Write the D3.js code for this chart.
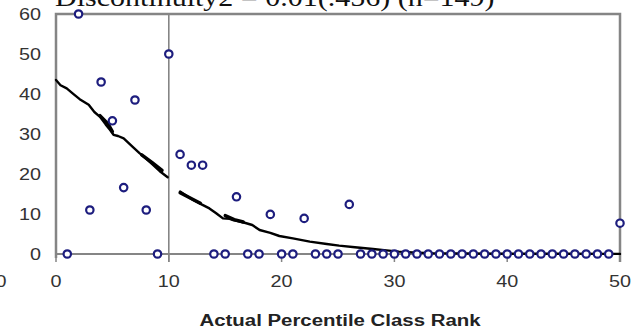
<!DOCTYPE html>
<html>
<head>
<meta charset="utf-8">
<script src="https://cdn.jsdelivr.net/npm/d3@7"></script>
<style>
  html, body { margin: 0; padding: 0; background: #fff; overflow: hidden; }
  svg { display: block; }
</style>
</head>
<body>
<svg id="chart" width="642" height="334"></svg>
<script>
// Observed class-rank points
const rankX = [1, 2, 3, 4, 5, 6, 7, 8, 9, 10, 11, 12, 13, 14, 15, 16, 17, 18, 19, 20,
  21, 22, 23, 24, 25, 26, 27, 28, 29, 30, 31, 32, 33, 34, 35, 36, 37, 38, 39, 40,
  41, 42, 43, 44, 45, 46, 47, 48, 49, 50];
const rankY = [0, 60, 11, 43, 33.3, 16.6, 38.5, 11, 0, 50, 24.9, 22.2, 22.2, 0, 0, 14.3, 0, 0, 9.9, 0,
  0, 8.9, 0, 0, 0, 12.4, 0, 0, 0, 0, 0, 0, 0, 0, 0, 0, 0, 0, 0, 0,
  0, 0, 0, 0, 0, 0, 0, 0, 0, 7.7];

// Fitted curve, below the cutoff
const fitLeftX = [0, 0.4, 0.95, 1.5, 2.1, 2.9, 3.4, 3.9, 4.4, 4.8, 5.1, 5.5, 6.0, 6.8, 7.4, 8.0, 8.6, 9.2, 9.9];
const fitLeftY = [43.5, 42.2, 41.4, 40.1, 38.7, 37.3, 35.5, 34.3, 32.4, 31.0, 29.8, 29.5, 28.9, 26.8, 25.2, 23.8, 22.3, 20.7, 19.2];
// Fitted curve, above the cutoff
const fitRightX = [11.0, 11.6, 12.15, 12.9, 13.6, 14.2, 14.8, 15.4, 15.7, 16.5, 17.4, 18.05, 19.0, 19.8, 21.0, 22.5, 24.0, 25.1, 26.5, 28.1, 29.3, 30.4, 32.0, 33.4, 36, 40, 45, 50];
const fitRightY = [15.6, 14.5, 13.5, 12.4, 11.4, 10.2, 8.9, 8.8, 8.5, 8.0, 7.25, 6.0, 5.3, 4.5, 3.9, 3.1, 2.5, 2.1, 1.7, 1.25, 0.9, 0.6, 0.35, 0.2, 0.12, 0.08, 0.05, 0.03];
// Short overlapping strokes where the fitted line thickens
const thickX = [[3.9, 4.6, 5.0], [7.6, 8.5, 9.4], [11.0, 11.9, 12.8], [15.0, 15.8, 16.6]];
const thickY = [[34.6, 32.6, 30.6], [24.8, 22.9, 20.9], [15.3, 14.0, 12.7], [9.6, 8.6, 8.0]];

const xTicks = [0, 10, 20, 30, 40, 50];
const yTicks = [0, 10, 20, 30, 40, 50, 60];
const cutoff = 10;
const titleText = "Discontinuity2 = 0.01(.456) (n=149)";
const xTitle = "Actual Percentile Class Rank";

const svg = d3.select("#chart");
const x = d3.scaleLinear().domain([0, 50]).range([56, 620]);
const y = d3.scaleLinear().domain([0, 60]).range([254, 14]);
const grey = "#858585";
const stretch = 1.2;

// horizontally stretched text helper
function label(g, tx, ty, txt, opts) {
  return g.append("text")
    .attr("transform", `translate(${tx},${ty}) scale(${stretch},1)`)
    .attr("text-anchor", opts.anchor || "middle")
    .attr("font-family", opts.family || "Liberation Sans, Arial, sans-serif")
    .attr("font-size", opts.size)
    .attr("font-weight", opts.weight || "normal")
    .attr("fill", opts.fill || "#222")
    .text(txt);
}

// title (runs off the top edge)
label(svg, 55, 6, titleText, { anchor: "start", family: "Liberation Serif, Times New Roman, serif", size: 25, fill: "#111" });

// stray label at the far left
label(svg, 1, 287, "0", { size: 16.5, fill: "#333" });

// x axis ticks
svg.append("g").selectAll("line").data(xTicks).join("line")
  .attr("x1", d => x(d)).attr("x2", d => x(d))
  .attr("y1", y(0)).attr("y2", y(0) + 8)
  .attr("stroke", grey).attr("stroke-width", 1.5);

// plot frame: left, top, right
svg.append("path")
  .attr("d", `M${x(0)},${y(0) + 4}V${y(60)}H${x(50)}V${y(0) + 8}`)
  .attr("fill", "none").attr("stroke", grey).attr("stroke-width", 2.5);

// x axis line
svg.append("line")
  .attr("x1", x(0)).attr("x2", x(50)).attr("y1", y(0)).attr("y2", y(0))
  .attr("stroke", grey).attr("stroke-width", 2.2);

// cutoff line
svg.append("line")
  .attr("x1", x(cutoff)).attr("x2", x(cutoff)).attr("y1", y(60)).attr("y2", y(0) + 8)
  .attr("stroke", grey).attr("stroke-width", 1.6);

// tick labels
const gx = svg.append("g");
xTicks.forEach(t => label(gx, x(t), 287, String(t), { size: 16.5, fill: "#333" }));
const gy = svg.append("g");
yTicks.forEach(t => label(gy, 41, y(t) + 6, String(t), { anchor: "end", size: 16.5, fill: "#333" }));

// axis title
label(svg, 340, 326, xTitle, { size: 17, weight: "bold", fill: "#222" });

// fitted curves
const line = d3.line().x(d => x(d[0])).y(d => y(d[1])).curve(d3.curveLinear);
const fitG = svg.append("g").attr("fill", "none").attr("stroke", "#000")
  .attr("stroke-linejoin", "round").attr("stroke-linecap", "round");
fitG.append("path").attr("d", line(fitLeftX.map((v, i) => [v, fitLeftY[i]]))).attr("stroke-width", 2.4);
fitG.append("path").attr("d", line(fitRightX.map((v, i) => [v, fitRightY[i]]))).attr("stroke-width", 2.4);
thickX.forEach((xs, i) => {
  fitG.append("path")
    .attr("d", line(xs.map((v, j) => [v, thickY[i][j]])))
    .attr("stroke-width", 3.4);
});

// observed points
svg.append("g").selectAll("circle").data(rankX.map((v, i) => [v, rankY[i]])).join("circle")
  .attr("cx", d => x(d[0])).attr("cy", d => y(d[1]))
  .attr("r", 3.7)
  .attr("fill", "#fff").attr("stroke", "#1d1d7e").attr("stroke-width", 2.2);
</script>
</body>
</html>
